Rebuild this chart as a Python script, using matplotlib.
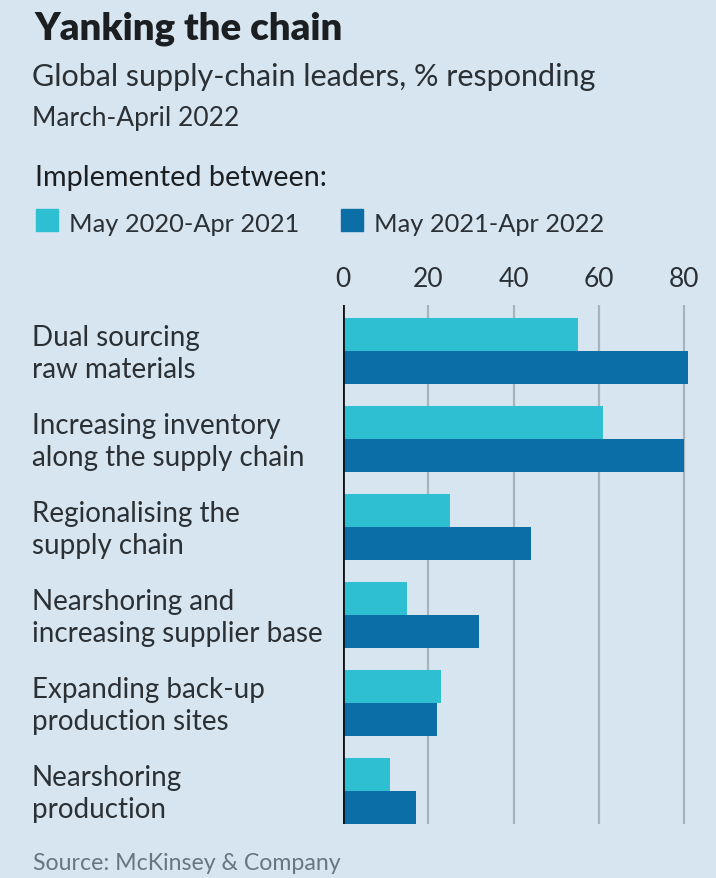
import numpy as np
import matplotlib
matplotlib.use("Agg")
import matplotlib.pyplot as plt
import matplotlib.transforms as mtransforms
from matplotlib.patches import Rectangle

# Survey results, % of global supply-chain leaders
categories = [
    "Dual sourcing\nraw materials",
    "Increasing inventory\nalong the supply chain",
    "Regionalising the\nsupply chain",
    "Nearshoring and\nincreasing supplier base",
    "Expanding back-up\nproduction sites",
    "Nearshoring\nproduction",
]
period_1 = [55, 61, 25, 15, 23, 11]   # May 2020-Apr 2021
period_2 = [81, 80, 44, 32, 22, 17]   # May 2021-Apr 2022
series_labels = ["May 2020-Apr 2021", "May 2021-Apr 2022"]
x_ticks = [0, 20, 40, 60, 80]

BG = "#d6e5ef"
LIGHT = "#2fbfd3"
DARK = "#0b6ea6"
INK = "#1c1f22"
TEXT = "#2b3035"
GREY = "#69767f"
GRID = "#a7b4bd"

FONT = "Lato"
W, H = 716, 879

plt.rcParams["font.family"] = [FONT, "DejaVu Sans"]


def fx(px):
    return px / W


def fy(py):
    return 1 - py / H


fig = plt.figure(figsize=(W / 100, H / 100), dpi=100)
fig.patch.set_facecolor(BG)

# header
fig.text(fx(34), fy(40), "Yanking the chain", fontsize=27.5, fontweight="heavy",
         color=INK, va="baseline", ha="left")
fig.text(fx(32), fy(86), "Global supply-chain leaders, % responding", fontsize=22,
         color=TEXT, va="baseline", ha="left")
fig.text(fx(32), fy(126), "March-April 2022", fontsize=19,
         color=TEXT, va="baseline", ha="left")
fig.text(fx(35), fy(186), "Implemented between:", fontsize=20.7,
         color=INK, va="baseline", ha="left")

# legend
for x0, col, lab in [(36, LIGHT, series_labels[0]), (341, DARK, series_labels[1])]:
    fig.patches.append(Rectangle((fx(x0), fy(232)), fx(22), 22 / H, color=col,
                                 transform=fig.transFigure, figure=fig))
    fig.text(fx(x0 + 33), fy(232), lab, fontsize=18.3, color=TEXT,
             va="baseline", ha="left")

# bar area
x_max = 84
ax_left, ax_top, ax_bottom = 343, 306, 825
ax = fig.add_axes([fx(ax_left), fy(ax_bottom), x_max * 4.265 / W, (ax_bottom - ax_top) / H])
ax.set_facecolor("none")

y = np.arange(len(categories))
bh = 0.375
ax.barh(y - bh / 2, period_1, height=bh, color=LIGHT, zorder=2)
ax.barh(y + bh / 2, period_2, height=bh, color=DARK, zorder=2)

ax.set_xlim(0, x_max)
ax.set_ylim(len(categories) - 1 + bh, -0.523)

ax.set_xticks(x_ticks)
ax.xaxis.tick_top()
ax.tick_params(axis="x", length=0, pad=10, labelsize=19, labelcolor=TEXT)
ax.grid(axis="x", color=GRID, linewidth=1.6, zorder=1)
ax.axvline(0, color="#111111", linewidth=2, zorder=3)

ax.set_yticks(y)
ax.set_yticklabels(categories, ha="left", fontsize=20, color=TEXT, linespacing=1.32)
ax.tick_params(axis="y", length=0, pad=(ax_left - 32) * 0.72)
# nudge the category labels up a little so they sit centred on each pair
lift = mtransforms.ScaledTranslation(0, 4 / 100, fig.dpi_scale_trans)
for lab in ax.get_yticklabels():
    lab.set_transform(lab.get_transform() + lift)

for s in ax.spines.values():
    s.set_visible(False)

fig.text(fx(33), fy(870), "Source: McKinsey & Company", fontsize=16.7,
         color=GREY, va="baseline", ha="left")

fig.savefig("out.png", dpi=100, facecolor=fig.get_facecolor())
